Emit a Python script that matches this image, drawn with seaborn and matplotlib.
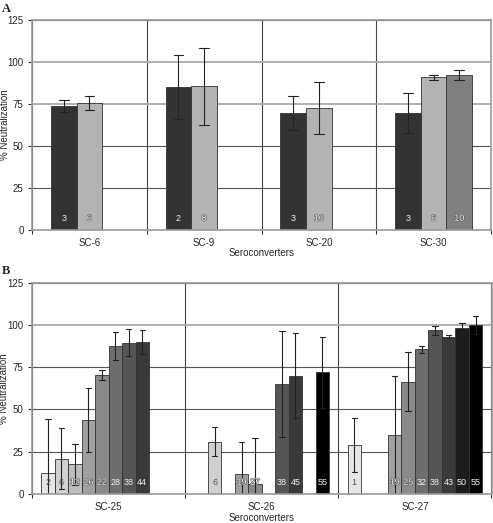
import matplotlib
matplotlib.use("Agg")
import matplotlib.pyplot as plt
import matplotlib.patheffects as pe
import seaborn as sns
import pandas as pd

# Panel A: seroconverters, sample index (hue), label, mean, error
a_groups = ["SC-6", "SC-9", "SC-20", "SC-30"]
a_sc = ["SC-6", "SC-6", "SC-9", "SC-9", "SC-20", "SC-20", "SC-30", "SC-30", "SC-30"]
a_sample = [1, 2, 1, 2, 1, 2, 1, 2, 3]
a_label = [3, 6, 2, 8, 3, 10, 3, 6, 10]
a_mean = [74, 75.5, 85, 85.5, 69.5, 72.5, 69.5, 91, 92.5]
a_err = [3.5, 4, 19, 23, 10, 15.5, 12, 1.5, 3]
a_colors = ["#333333", "#b3b3b3", "#808080"]

# Panel B
b_groups = ["SC-25", "SC-26", "SC-27"]
sc25_sample = [1, 2, 3, 4, 5, 6, 7, 8]
sc25_label = [2, 6, 12, 16, 22, 28, 38, 44]
sc25_mean = [12.5, 21, 17.5, 44, 70.4, 87.5, 89.5, 90]
sc25_err = [32, 18, 12, 19, 3, 8.5, 8, 7]

sc26_sample = [2, 4, 5, 7, 8, 10]
sc26_label = [6, 19, 27, 38, 45, 55]
sc26_mean = [31, 12, 6, 65, 70, 72]
sc26_err = [8.5, 19, 27, 31.5, 25, 21]

sc27_sample = [1, 4, 5, 6, 7, 8, 9, 10]
sc27_label = [1, 19, 25, 32, 38, 43, 50, 55]
sc27_mean = [29, 35, 66.5, 85.5, 96.8, 93, 98, 100]
sc27_err = [16, 35, 17.5, 2, 2.5, 1, 3.3, 5.5]

b_colors = ["#e6e6e6", "#d0d0d0", "#bdbdbd", "#a0a0a0", "#8a8a8a",
            "#6e6e6e", "#555555", "#3a3a3a", "#1c1c1c", "#000000"]

yticks = [0, 25, 50, 75, 100, 125]


def long_frame(sc, sample, label, mean, err):
    # two rows per bar (mean - err, mean + err): their mean is the bar,
    # the min/max interval is the error bar
    rows = []
    for s, h, l, m, e in zip(sc, sample, label, mean, err):
        rows.append({"sc": s, "sample": h, "label": l, "value": m - e})
        rows.append({"sc": s, "sample": h, "label": l, "value": m + e})
    return pd.DataFrame(rows)


dfA = long_frame(a_sc, a_sample, a_label, a_mean, a_err)
dfB = pd.concat([
    long_frame(["SC-25"] * len(sc25_sample), sc25_sample, sc25_label, sc25_mean, sc25_err),
    long_frame(["SC-26"] * len(sc26_sample), sc26_sample, sc26_label, sc26_mean, sc26_err),
    long_frame(["SC-27"] * len(sc27_sample), sc27_sample, sc27_label, sc27_mean, sc27_err),
])

sns.set_style("white")
plt.rcParams["font.family"] = ["Liberation Sans", "DejaVu Sans"]

fig = plt.figure(figsize=(4.93, 5.23), dpi=100)
axA = fig.add_axes([32 / 493, 1 - 230 / 523, 459 / 493, 210 / 523])
axB = fig.add_axes([32 / 493, 1 - 494 / 523, 459.5 / 493, 211.3 / 523])


def draw_panel(ax, df, groups, colors, width, capsize, light_grid):
    hue_order = sorted(df["sample"].unique())
    sns.barplot(data=df, x="sc", y="value", hue="sample", order=groups,
                hue_order=hue_order, palette=colors[:len(hue_order)],
                estimator="mean", errorbar=("pi", 100), width=width,
                capsize=capsize, edgecolor="#333333", linewidth=0.6,
                err_kws={"color": "#222222", "linewidth": 0.8},
                legend=False, ax=ax)
    ax.set_ylim(0, 125)
    ax.set_xlim(-0.5, len(groups) - 0.5)
    ax.set_yticks(yticks)
    ax.set_xticks([i - 0.5 for i in range(len(groups) + 1)], minor=True)
    ax.tick_params(axis="y", length=3, width=0.8, color="#333333",
                   labelsize=7, pad=3, left=True)
    ax.tick_params(axis="x", which="major", length=0, labelsize=7, pad=6)
    ax.tick_params(axis="x", which="minor", length=3, width=0.8,
                   color="#333333", bottom=True)
    ax.grid(axis="y", color="#555555", linewidth=0.8)
    ax.grid(axis="x", which="minor", color="#444444", linewidth=0.8)
    for val, gl in zip(yticks, ax.get_ygridlines()):
        if val in light_grid:
            gl.set_color("#aaaaaa")
            gl.set_linewidth(1.3)
    ax.set_axisbelow(True)
    for side in ["top", "bottom", "left", "right"]:
        ax.spines[side].set_visible(True)
        ax.spines[side].set_color("#999999")
        ax.spines[side].set_linewidth(1.2)
    ax.set_ylabel("% Neutralization", fontsize=7)
    ax.yaxis.set_label_coords(-0.049, 0.5)
    ax.set_xlabel("Seroconverters", fontsize=7)

    # number labels near the base of each bar
    lookup = {(r.sc, r.sample): r.label for r in df.itertuples()}
    for h, cont in zip(hue_order, ax.containers):
        for bar in cont:
            if bar.get_height() != bar.get_height():
                continue
            xc = bar.get_x() + bar.get_width() / 2
            sc = groups[int(round(xc))]
            if (sc, h) not in lookup:
                continue
            r, g, b, _ = bar.get_facecolor()
            lum = 0.299 * r + 0.587 * g + 0.114 * b
            effects = None
            if lum > 0.78:
                tcol = "#555555"
            elif lum > 0.5:
                tcol = "#f4f4f4"
                effects = [pe.withStroke(linewidth=0.8, foreground="#555555")]
            else:
                tcol = "#eeeeee"
            ax.text(xc, 7, str(lookup[(sc, h)]), ha="center", va="center",
                    fontsize=6.5, color=tcol, path_effects=effects)


draw_panel(axA, dfA, a_groups, a_colors, 0.67, 0.25, [75, 100])
axA.xaxis.set_label_coords(0.5, -0.085)
draw_panel(axB, dfB, b_groups, b_colors, 0.88, 0.35, [100])
axB.xaxis.set_label_coords(0.5, -0.092)

fig.text(0.004, 1 - 3 / 523, "A", fontsize=9, fontweight="bold",
         family="Liberation Serif", va="top", ha="left")
fig.text(0.004, 1 - 265 / 523, "B", fontsize=9, fontweight="bold",
         family="Liberation Serif", va="top", ha="left")

fig.savefig("out.png", dpi=100)
